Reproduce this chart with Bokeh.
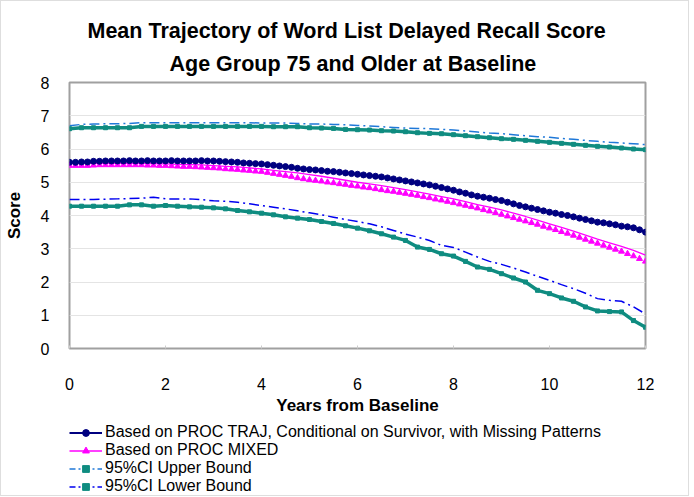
from bokeh.plotting import figure
from bokeh.layouts import column
from bokeh.models import Range1d, Legend, LegendItem, Title, FixedTicker
from bokeh.embed import file_html
from bokeh.resources import INLINE

# ---- data ----
years_fine = [round(i * 0.125, 3) for i in range(97)]
years = [round(i * 0.25, 2) for i in range(49)]

traj_mean = [5.60, 5.60, 5.61, 5.61, 5.63, 5.63, 5.64, 5.64, 5.64, 5.64, 5.65, 5.64,
             5.64, 5.65, 5.64, 5.64, 5.64, 5.65, 5.64, 5.64, 5.64, 5.64, 5.65, 5.64,
             5.64, 5.63, 5.62, 5.61, 5.60, 5.58, 5.57, 5.56, 5.55, 5.53, 5.51, 5.49,
             5.47, 5.45, 5.42, 5.40, 5.38, 5.37, 5.35, 5.33, 5.32, 5.30, 5.28, 5.26,
             5.24, 5.22, 5.20, 5.18, 5.16, 5.13, 5.10, 5.07, 5.04, 5.01, 4.98, 4.95,
             4.92, 4.88, 4.84, 4.80, 4.76, 4.71, 4.67, 4.62, 4.58, 4.55, 4.52, 4.48,
             4.45, 4.40, 4.35, 4.30, 4.26, 4.22, 4.18, 4.14, 4.10, 4.07, 4.03, 4.00,
             3.96, 3.92, 3.88, 3.84, 3.80, 3.78, 3.75, 3.72, 3.68, 3.66, 3.63, 3.57,
             3.50]

mixed_points = [5.50, 5.50, 5.50, 5.50, 5.51, 5.52, 5.52, 5.52, 5.52, 5.52, 5.52, 5.52,
                5.52, 5.51, 5.51, 5.50, 5.50, 5.49, 5.48, 5.47, 5.47, 5.46, 5.45, 5.44,
                5.43, 5.42, 5.40, 5.39, 5.38, 5.36, 5.35, 5.33, 5.32, 5.29, 5.26, 5.23,
                5.20, 5.17, 5.13, 5.10, 5.07, 5.05, 5.03, 5.00, 4.98, 4.95, 4.93, 4.90,
                4.88, 4.85, 4.83, 4.80, 4.77, 4.74, 4.72, 4.69, 4.66, 4.63, 4.60, 4.56,
                4.53, 4.49, 4.46, 4.42, 4.38, 4.34, 4.30, 4.26, 4.22, 4.17, 4.13, 4.08,
                4.03, 3.98, 3.93, 3.88, 3.83, 3.78, 3.73, 3.67, 3.62, 3.57, 3.51, 3.46,
                3.40, 3.34, 3.28, 3.22, 3.16, 3.10, 3.04, 2.98, 2.92, 2.85, 2.78, 2.70,
                2.62]

mixed_line = [5.56, 5.56, 5.57, 5.57, 5.57, 5.57, 5.57, 5.56, 5.55, 5.54, 5.53, 5.52,
              5.50, 5.48, 5.46, 5.43, 5.40, 5.36, 5.32, 5.28, 5.23, 5.18, 5.12, 5.06,
              5.00, 4.95, 4.90, 4.84, 4.78, 4.71, 4.64, 4.57, 4.50, 4.42, 4.33, 4.25,
              4.17, 4.07, 3.97, 3.86, 3.75, 3.64, 3.53, 3.41, 3.29, 3.18, 3.07, 2.95,
              2.81]

upper_dash = [6.70, 6.74, 6.75, 6.76, 6.76, 6.77, 6.79, 6.79, 6.79, 6.79, 6.79, 6.79,
              6.79, 6.79, 6.79, 6.79, 6.78, 6.78, 6.78, 6.77, 6.75, 6.75, 6.74, 6.73,
              6.71, 6.69, 6.67, 6.65, 6.63, 6.62, 6.61, 6.59, 6.57, 6.54, 6.51, 6.48,
              6.46, 6.43, 6.40, 6.37, 6.35, 6.32, 6.29, 6.26, 6.23, 6.20, 6.18, 6.16,
              6.13]

upper_solid = [6.61, 6.64, 6.64, 6.64, 6.64, 6.64, 6.68, 6.68, 6.68, 6.68, 6.68, 6.68,
               6.68, 6.68, 6.68, 6.68, 6.68, 6.67, 6.67, 6.67, 6.64, 6.63, 6.62, 6.59,
               6.58, 6.57, 6.55, 6.54, 6.52, 6.49, 6.47, 6.46, 6.43, 6.40, 6.37, 6.34,
               6.31, 6.29, 6.26, 6.23, 6.20, 6.17, 6.14, 6.11, 6.08, 6.06, 6.03, 6.00,
               5.98]

lower_dash = [4.48, 4.48, 4.48, 4.49, 4.50, 4.51, 4.52, 4.55, 4.50, 4.50, 4.50, 4.48,
              4.44, 4.43, 4.40, 4.35, 4.30, 4.25, 4.20, 4.14, 4.08, 4.02, 3.95, 3.88,
              3.82, 3.75, 3.66, 3.55, 3.44, 3.35, 3.25, 3.10, 3.04, 2.90, 2.75, 2.62,
              2.53, 2.42, 2.30, 2.17, 2.05, 1.92, 1.80, 1.66, 1.50, 1.45, 1.42, 1.25,
              1.04]

lower_solid = [4.28, 4.28, 4.28, 4.28, 4.28, 4.32, 4.32, 4.28, 4.30, 4.28, 4.26, 4.25,
               4.23, 4.20, 4.15, 4.11, 4.07, 4.02, 3.96, 3.92, 3.88, 3.82, 3.76, 3.69,
               3.62, 3.54, 3.45, 3.35, 3.25, 3.05, 2.98, 2.85, 2.78, 2.62, 2.45, 2.38,
               2.25, 2.12, 2.00, 1.75, 1.65, 1.52, 1.42, 1.25, 1.13, 1.11, 1.10, 0.84,
               0.64]

x_ticks = [0, 2, 4, 6, 8, 10, 12]
y_ticks = [0, 1, 2, 3, 4, 5, 6, 7, 8]
legend_labels = ["Based on PROC TRAJ, Conditional on Survivor, with Missing Patterns",
                 "Based on PROC MIXED", "95%CI Upper Bound", "95%CI Lower Bound"]

NAVY = "#000080"
MAGENTA = "#FF00FF"
TEAL = "#0F8C80"
LIGHTBLUE = "#1F78D8"
BLUE = "#0000F0"
FONT = "Liberation Sans"
DASH = "10 4 2 4"

p = figure(frame_width=576, frame_height=266,
           x_range=Range1d(0, 12), y_range=Range1d(0, 8),
           output_backend="svg", toolbar_location=None, title=None,
           min_border_left=59, min_border_right=43, min_border_top=81, min_border_bottom=0,
           background_fill_color="white", border_fill_color="white")

p.outline_line_color = "#a0a0a0"
p.outline_line_width = 2

p.xgrid.visible = False
p.ygrid.grid_line_color = "#e4e4e4"
p.ygrid.grid_line_width = 1

p.xaxis.ticker = FixedTicker(ticks=x_ticks)
p.yaxis.ticker = FixedTicker(ticks=y_ticks)
for ax in (p.xaxis, p.yaxis):
    ax.axis_line_color = None
    ax.major_tick_line_color = None
    ax.minor_tick_line_color = None
    ax.major_label_text_font = FONT
    ax.major_label_text_font_size = "16px"
    ax.major_label_text_color = "black"
    ax.axis_label_text_font = FONT
    ax.axis_label_text_font_style = "bold"
    ax.axis_label_text_font_size = "17px"
    ax.axis_label_text_color = "black"

p.xaxis.major_tick_line_color = "#cccccc"
p.xaxis.major_tick_in = 3
p.xaxis.major_tick_out = 0
p.xaxis.major_label_standoff = 29
p.xaxis.axis_label = "Years from Baseline"
p.xaxis.axis_label_standoff = 3

p.yaxis.major_label_standoff = 14
p.yaxis.axis_label = "Score"
p.yaxis.axis_label_standoff = 14

t2 = Title(text="Age Group 75 and Older at Baseline", align="left",
           text_font=FONT, text_font_style="bold", text_font_size="21.5px",
           text_color="black", standoff=13, offset=100)
t1 = Title(text="Mean Trajectory of Word List Delayed Recall Score", align="left",
           text_font=FONT, text_font_style="bold", text_font_size="21.5px",
           text_color="black", standoff=2, offset=18)
p.add_layout(t2, "above")
p.add_layout(t1, "above")

# ---- series ----
p.line(years, upper_dash, line_color=LIGHTBLUE, line_width=1.5, line_dash=DASH)
p.line(years, upper_solid, line_color=TEAL, line_width=3.5)
p.scatter(years, upper_solid, marker="square", size=4, color=TEAL)
p.line(years, lower_dash, line_color=BLUE, line_width=1.5, line_dash=DASH)
p.line(years, lower_solid, line_color=TEAL, line_width=3.5)
p.scatter(years, lower_solid, marker="square", size=4, color=TEAL)

p.line(years, mixed_line, line_color=MAGENTA, line_width=1.3)
p.scatter(years_fine, mixed_points, marker="triangle", size=6, color=MAGENTA)

p.line(years_fine, traj_mean, line_color=NAVY, line_width=2)
p.scatter(years_fine, traj_mean, marker="circle", size=6, color=NAVY)

# ---- legend strip: key glyphs use the first value of each series, kept outside its view ----
leg = figure(width=678, height=78, output_backend="svg", toolbar_location=None,
             x_range=Range1d(100, 101), y_range=Range1d(100, 101),
             x_axis_location=None, y_axis_location=None,
             min_border_left=39, min_border_right=0, min_border_top=6, min_border_bottom=0,
             outline_line_color=None, border_fill_color="white")
leg.grid.visible = False
k_tl = leg.line(years[:1], traj_mean[:1], line_color=NAVY, line_width=2)
k_tp = leg.scatter(years[:1], traj_mean[:1], marker="circle", size=6, color=NAVY)
k_ml = leg.line(years[:1], mixed_line[:1], line_color=MAGENTA, line_width=1.3)
k_mp = leg.scatter(years[:1], mixed_points[:1], marker="triangle", size=6, color=MAGENTA)
k_ud = leg.line(years[:1], upper_dash[:1], line_color=LIGHTBLUE, line_width=1.5, line_dash="6 3 2 3")
k_um = leg.scatter(years[:1], upper_solid[:1], marker="square", size=4, color=TEAL)
k_ld = leg.line(years[:1], lower_dash[:1], line_color=BLUE, line_width=1.5, line_dash="6 3 2 3")
k_lm = leg.scatter(years[:1], lower_solid[:1], marker="square", size=4, color=TEAL)

legend = Legend(items=[
    LegendItem(label=legend_labels[0], renderers=[k_tl, k_tp]),
    LegendItem(label=legend_labels[1], renderers=[k_ml, k_mp]),
    LegendItem(label=legend_labels[2], renderers=[k_ud, k_um]),
    LegendItem(label=legend_labels[3], renderers=[k_ld, k_lm]),
], location="top_left", orientation="vertical")
legend.label_text_font = FONT
legend.label_text_font_size = "16px"
legend.label_text_color = "black"
legend.glyph_width = 33
legend.glyph_height = 17
legend.label_height = 17
legend.label_standoff = 3
legend.spacing = 0
legend.padding = 0
legend.margin = 0
legend.border_line_color = None
legend.background_fill_alpha = 0
leg.add_layout(legend, "center")

layout = column(p, leg, spacing=0, styles={"border": "1px solid #dedede"})

open("out.html", "w").write(file_html(layout, INLINE))
